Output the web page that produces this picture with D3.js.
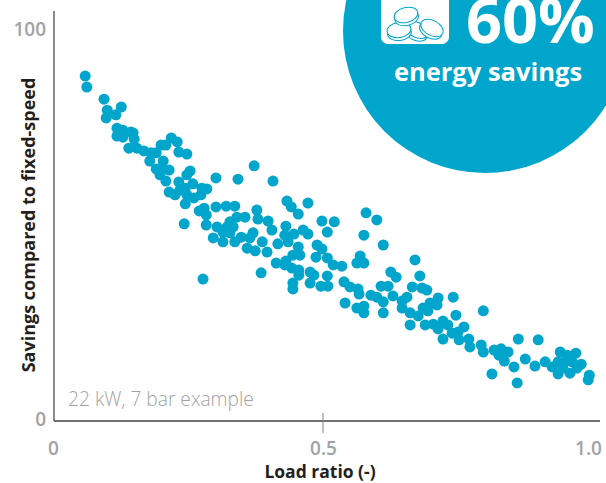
<!DOCTYPE html>
<html>
<head>
<meta charset="utf-8">
<script src="https://d3js.org/d3.v7.min.js"></script>
<style>
  html, body { margin: 0; padding: 0; background: #fff; }
  svg { display: block; }
  text { font-family: "Open Sans", "Noto Sans", sans-serif; }
  .domain { display: none; }
</style>
</head>
<body>
<div id="my_dataviz"></div>
<script>
// values
var loadRatio = [
  .058,.061,.093,.125,.099,.115,.097,.117,.128,.143,.117,.128,.149,.147,.139,.154,.167,.178,.180,.190,
  .199,.208,.218,.229,.232,.247,.203,.190,.199,.214,.197,.208,.253,.247,.232,.301,.342,.372,.407,.258,
  .284,.275,.244,.234,.214,.225,.247,.260,.273,.244,.279,.270,.283,.301,.320,.336,.377,.355,.340,.327,
  .379,.398,.405,.242,.283,.303,.322,.333,.296,.314,.314,.327,.336,.348,.370,.364,.359,.387,.374,.396,
  .416,.431,.429,.446,.435,.454,.413,.429,.442,.444,.385,.277,.433,.441,.454,.444,.444,.472,.498,.521,
  .508,.580,.600,.576,.612,.463,.472,.489,.498,.457,.487,.508,.519,.535,.455,.455,.476,.483,.508,.476,
  .496,.509,.539,.550,.565,.567,.541,.589,.600,.612,.576,.563,.576,.612,.569,.563,.576,.671,.626,.636,
  .680,.608,.621,.666,.684,.693,.630,.656,.647,.647,.662,.677,.686,.695,.699,.714,.712,.742,.798,.747,
  .662,.690,.705,.714,.723,.732,.762,.723,.740,.751,.753,.771,.773,.794,.798,.818,.831,.844,.827,.837,
  .863,.900,.876,.855,.894,.814,.861,.913,.926,.937,.941,.954,.970,.937,.950,.963,.980,.946,.959,.972,
  .995,.993,.431
];
var savings = [
  88.0,85.2,82.1,80.1,79.3,78.1,77.3,74.7,74.2,73.7,72.7,72.4,71.9,73.5,69.6,69.6,68.9,66.3,68.4,68.4,
  70.4,70.4,72.2,71.2,68.6,68.1,66.3,64.3,64.5,64.0,62.8,61.2,63.8,62.8,61.0,62.0,61.7,65.1,61.2,60.5,
  59.2,59.4,59.4,58.9,58.4,57.7,57.7,56.9,57.7,55.4,54.3,53.6,52.6,54.6,54.8,54.8,53.8,52.0,52.0,50.8,
  51.5,51.0,48.7,50.3,50.0,49.5,49.5,49.5,46.7,48.2,45.7,48.0,45.7,46.9,48.0,46.7,44.1,45.7,43.4,43.1,
  45.2,49.7,47.4,47.7,45.7,44.4,40.3,39.8,39.0,42.3,37.8,36.2,56.1,54.6,52.8,35.2,33.7,55.6,51.0,50.8,
  48.2,53.1,51.3,47.4,44.9,48.7,47.7,44.9,43.9,42.3,41.8,41.6,39.8,39.5,38.5,37.2,38.0,37.2,37.0,35.2,
  34.4,34.4,35.5,34.2,33.7,32.4,30.1,32.1,31.6,30.4,29.3,28.8,27.6,27.6,42.1,40.3,40.3,41.1,38.0,36.7,
  37.0,34.4,34.4,34.2,33.9,33.4,31.9,31.6,30.6,28.8,27.6,26.8,28.8,28.1,30.1,31.4,29.6,31.6,28.1,27.0,
  24.5,24.5,24.7,23.5,25.5,24.5,24.0,20.9,22.4,22.7,20.7,20.9,18.9,19.4,17.6,18.1,18.4,17.6,16.8,15.3,
  20.9,20.7,15.8,13.8,14.0,12.0,9.7,15.1,13.8,12.0,17.6,16.8,17.3,15.1,15.1,15.1,14.5,13.5,12.2,13.5,
  11.7,10.5,40.8
];
var xTicks = [0, 0.5, 1];
var xTickLabels = ["0", "0.5", "1.0"];
var yTicks = [0, 100];

var width = 606,
  height = 483;
var blue = "#00a5cc",
  grey = "#a1a3a6";

var svg = d3.select("#my_dataviz")
  .append("svg")
  .attr("width", width)
  .attr("height", height);

var x = d3.scaleLinear().domain([0, 1]).range([54, 592]);
var y = d3.scaleLinear().domain([0, 100]).range([421, 29]);

// points
svg.append("g")
  .selectAll("circle")
  .data(loadRatio)
  .enter()
  .append("circle")
  .attr("cx", function(d) { return x(d); })
  .attr("cy", function(d, i) { return y(savings[i]); })
  .attr("r", 5.5)
  .attr("fill", blue);

// y axis, only the labels come from the axis
var yAxis = svg.append("g")
  .attr("transform", "translate(54,0)")
  .call(d3.axisLeft(y).tickValues(yTicks).tickSize(0).tickPadding(8));
yAxis.selectAll("text")
  .attr("fill", grey)
  .style("font-size", "19px")
  .style("font-weight", 600);
yAxis.selectAll("text")
  .filter(function(d) { return d == 0; })
  .attr("dy", "0.22em");

svg.append("line")
  .attr("x1", 54).attr("x2", 54)
  .attr("y1", y(0)).attr("y2", 11)
  .attr("stroke", "#8a8c8e")
  .attr("stroke-width", 2);

// x axis
var xAxis = svg.append("g")
  .attr("transform", "translate(0," + y(0) + ")")
  .call(d3.axisBottom(x).tickValues(xTicks).tickSize(0).tickPadding(21)
    .tickFormat(function(d, i) { return xTickLabels[i]; }));
xAxis.selectAll("text")
  .attr("fill", grey)
  .style("font-size", "19px")
  .style("font-weight", 600);
// end labels do not sit exactly under their positions
xAxis.selectAll("text")
  .filter(function(d) { return d == 1; })
  .attr("dx", -4);
xAxis.selectAll("text")
  .filter(function(d) { return d == 0; })
  .attr("dx", -1);

svg.append("line")
  .attr("x1", 54).attr("x2", 600)
  .attr("y1", y(0)).attr("y2", y(0))
  .attr("stroke", "#414042")
  .attr("stroke-width", 1.5);
svg.append("line")
  .attr("x1", x(0.5)).attr("x2", x(0.5))
  .attr("y1", y(0) - 8).attr("y2", y(0) + 12)
  .attr("stroke", "#808285")
  .attr("stroke-width", 1);

svg.append("text")
  .attr("x", 68)
  .attr("y", 406)
  .attr("fill", grey)
  .style("font-size", "19.2px")
  .style("font-weight", 300)
  .text("22 kW, 7 bar example");

svg.append("text")
  .attr("x", 320)
  .attr("y", 478)
  .attr("text-anchor", "middle")
  .attr("fill", "#231f20")
  .style("font-size", "17.5px")
  .style("font-weight", 700)
  .text("Load ratio (-)");

svg.append("text")
  .attr("transform", "translate(35,225) rotate(-90)")
  .attr("text-anchor", "middle")
  .attr("fill", "#231f20")
  .style("font-size", "18px")
  .style("font-weight", 700)
  .text("Savings compared to fixed-speed");

// badge
svg.append("circle")
  .attr("cx", 485)
  .attr("cy", 31)
  .attr("r", 142)
  .attr("fill", blue);

svg.append("rect")
  .attr("x", 381)
  .attr("y", -20)
  .attr("width", 68)
  .attr("height", 64)
  .attr("rx", 7)
  .attr("fill", "#fff");

var coins = [
  { cx: 417, cy: 30, rot: 25 },
  { cx: 399, cy: 30, rot: -8 },
  { cx: 432, cy: 28, rot: 28 },
  { cx: 406, cy: 15, rot: -14 }
];
var coin = svg.append("g")
  .selectAll("g")
  .data(coins)
  .enter()
  .append("g")
  .attr("transform", function(d) {
    return "translate(" + d.cx + "," + d.cy + ") rotate(" + d.rot + ")";
  });
coin.append("ellipse")
  .attr("cy", 3).attr("rx", 12).attr("ry", 7.5)
  .attr("fill", "#fff").attr("stroke", blue).attr("stroke-width", 1);
coin.append("ellipse")
  .attr("rx", 12).attr("ry", 7.5)
  .attr("fill", "#fff").attr("stroke", blue).attr("stroke-width", 1);

svg.append("text")
  .attr("x", 466)
  .attr("y", 43)
  .attr("fill", "#fff")
  .style("font-size", "63px")
  .style("font-weight", 700)
  .text("60%");

svg.append("text")
  .attr("x", 488)
  .attr("y", 81)
  .attr("text-anchor", "middle")
  .attr("fill", "#fff")
  .style("font-size", "25.5px")
  .style("font-weight", 700)
  .text("energy savings");
</script>
</body>
</html>
